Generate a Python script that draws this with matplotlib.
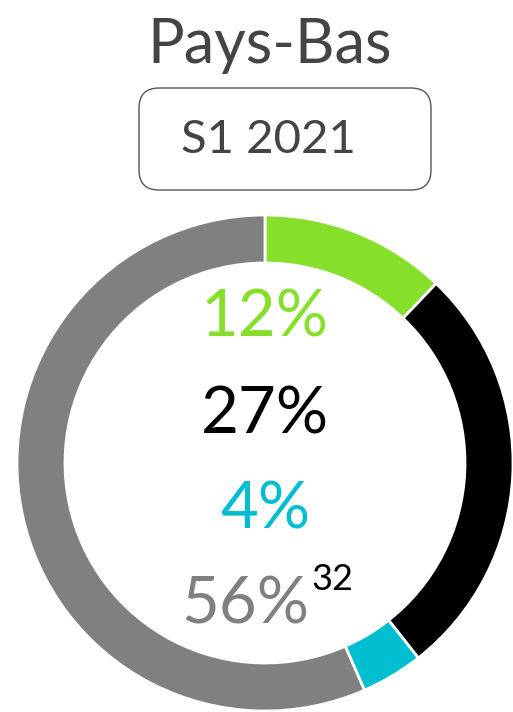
import matplotlib
matplotlib.use('Agg')
import matplotlib.pyplot as plt
import matplotlib.patches as patches

# data
segments = ['green', 'black', 'cyan', 'gray']
shares = [12, 27, 4, 56]
colors = ['#86DF2A', '#000000', '#00BDD0', '#808080']
pct_labels = ['12%', '27%', '4%', '56%']
title = 'Pays-Bas'
period = 'S1 2021'
note = '32'

plt.rcParams['font.family'] = ['Lato', 'DejaVu Sans']

W, H = 513, 712
fig = plt.figure(figsize=(W / 100, H / 100), dpi=100)
ax = fig.add_axes([0, 0, 1, 1])

cx, cy, r = 265, H - 463, 248
ax.pie(shares, colors=colors, startangle=90, counterclock=False,
       center=(cx, cy), radius=r, frame=True,
       wedgeprops=dict(width=48, edgecolor='white', linewidth=2))

ax.set_xlim(0, W)
ax.set_ylim(0, H)
ax.set_aspect('equal')
ax.axis('off')

# title and period box
ax.text(270, H - 45, title, ha='center', va='center', fontsize=44,
        color='#444444')
box = patches.FancyBboxPatch((139, H - 190), 292, 102,
                             boxstyle='round,pad=0,rounding_size=20',
                             facecolor='white', edgecolor='#555555', linewidth=1)
ax.add_patch(box)
ax.text(268, H - 140, period, ha='center', va='center', fontsize=34,
        color='#444444')

# center labels
ys = [318, 415, 510, 605]
xs = [265, 265, 265, 245]
for lab, col, x, y in zip(pct_labels, colors, xs, ys):
    ax.text(x, H - y, lab, ha='center', va='center', fontsize=47,
            color=col)
ax.text(332, H - 580, note, ha='center', va='center', fontsize=26,
        color='black')

plt.savefig('out.png', dpi=100)
